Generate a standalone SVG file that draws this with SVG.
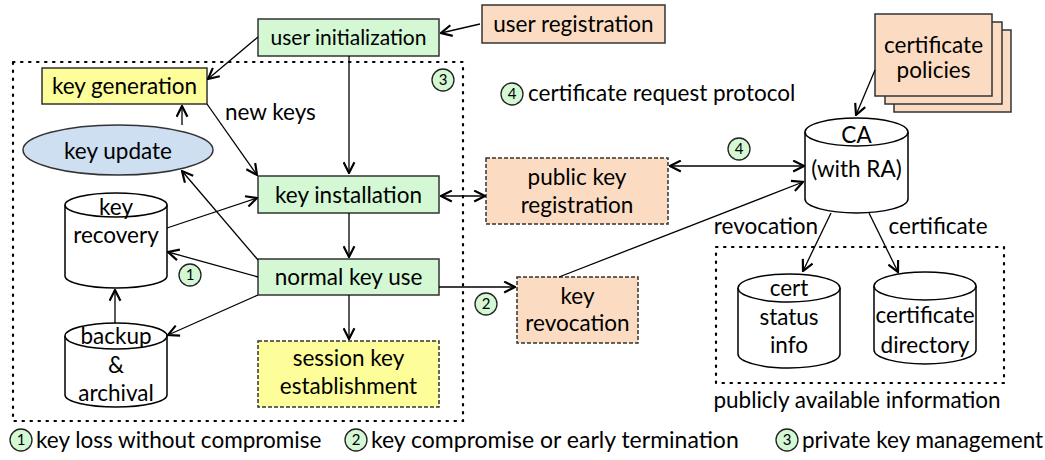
<svg xmlns="http://www.w3.org/2000/svg" width="1045" height="460" viewBox="0 0 1045 460">
<style>
text{font-family:Lato,"Open Sans",sans-serif;font-size:22.5px;fill:#000;text-anchor:middle}
.l{text-anchor:start}
.green{fill:#d3f8d3;stroke:#333;stroke-width:1.5}
.yellow{fill:#fdfd99;stroke:#333;stroke-width:1.5}
.peach{fill:#fbdcc2;stroke:#333;stroke-width:1.5}
.dash{stroke-dasharray:4 2}
.cyl{fill:#fff;stroke:#000;stroke-width:1.5}
.dots{fill:none;stroke:#000;stroke-width:2.2;stroke-dasharray:1.5 6.5;stroke-linecap:round}
.num{fill:#d3f8d3;stroke:#222;stroke-width:1.3}
.nt{font-size:15px}
.c line,.c path{stroke:#000;stroke-width:1.3;fill:none;marker-end:url(#a)}
.c .d{marker-start:url(#a)}
</style>
<defs>
<marker id="a" viewBox="0 0 12 12" refX="11" refY="6" markerWidth="13" markerHeight="13" markerUnits="userSpaceOnUse" orient="auto-start-reverse">
<path d="M1,1 L11,6 L1,11" fill="none" stroke="#000" stroke-width="2"/>
</marker>
</defs>

<rect class="dots" x="13" y="62" width="450" height="359"/>
<rect class="dots" x="716" y="247" width="288" height="136"/>

<g id="user-init"><rect class="green" x="258" y="19" width="181" height="37"/><text x="348.5" y="45" style="font-size:21px">user initialization</text></g>
<g id="user-reg"><rect class="peach" x="482" y="5" width="183" height="38"/><text x="573.5" y="32">user registration</text></g>
<g id="key-gen"><rect class="yellow" x="42" y="68" width="165" height="36"/><text x="124.5" y="94">key generation</text></g>
<g id="key-update"><ellipse cx="118" cy="150" rx="95" ry="25" fill="#cddff1" stroke="#333" stroke-width="1.5"/><text x="118" y="159">key update</text></g>
<g id="key-install"><rect class="green" x="258" y="176" width="181" height="37"/><text x="348.5" y="203">key installation</text></g>
<g id="normal-use"><rect class="green" x="258" y="259" width="181" height="36"/><text x="348.5" y="285">normal key use</text></g>
<g id="session"><rect class="yellow dash" x="258" y="341" width="181" height="66"/><text x="348.5" y="366">session key</text><text x="348.5" y="394">establishment</text></g>
<g id="key-recovery"><path class="cyl" d="M65,205 L65,276 A51,12 0 0 0 167,276 L167,205"/><ellipse class="cyl" cx="116" cy="205" rx="51" ry="12"/><text x="116" y="215">key</text><text x="116" y="243">recovery</text></g>
<g id="backup"><path class="cyl" d="M65,336 L65,395 A51,12 0 0 0 167,395 L167,336"/><ellipse class="cyl" cx="116" cy="336" rx="51" ry="13"/><text x="116" y="344">backup</text><text x="116" y="373">&amp;</text><text x="116" y="401">archival</text></g>
<g id="pub-reg"><rect class="peach dash" x="486" y="158" width="182" height="66"/><text x="577" y="185">public key</text><text x="577" y="213">registration</text></g>
<g id="key-revoc"><rect class="peach dash" x="517" y="277" width="121" height="66"/><text x="577.5" y="304">key</text><text x="577.5" y="331">revocation</text></g>
<g id="policies"><rect class="peach" x="894" y="30" width="117" height="82"/><rect class="peach" x="885" y="22" width="117" height="82"/><rect class="peach" x="875" y="14" width="117" height="82"/><text x="933.5" y="53">certificate</text><text x="933.5" y="78">policies</text></g>
<g id="ca"><path class="cyl" d="M805,132 L805,199 A51.5,14 0 0 0 908,199 L908,132"/><ellipse class="cyl" cx="856.5" cy="132" rx="51.5" ry="14"/><text x="856.5" y="143">CA</text><text x="856.5" y="177">(with RA)</text></g>
<g id="cert-status"><path class="cyl" d="M738,288 L738,354 A51,14 0 0 0 840,354 L840,288"/><ellipse class="cyl" cx="789" cy="288" rx="51" ry="14"/><text x="789" y="296">cert</text><text x="789" y="325">status</text><text x="789" y="353">info</text></g>
<g id="cert-dir"><path class="cyl" d="M874,286 L874,350 A51,14 0 0 0 976,350 L976,286"/><ellipse class="cyl" cx="925" cy="286" rx="51" ry="14"/><text x="925" y="323">certificate</text><text x="925" y="353">directory</text></g>

<g id="connectors" class="c">
<line x1="480" y1="24" x2="441" y2="33"/>
<line x1="258" y1="37" x2="208" y2="79"/>
<line x1="349" y1="56" x2="349" y2="173"/>
<line x1="182" y1="125" x2="182" y2="106"/>
<line x1="207" y1="104" x2="257" y2="175"/>
<line x1="349" y1="213" x2="349" y2="257"/>
<line x1="349" y1="295" x2="349" y2="339"/>
<line x1="167" y1="228" x2="257" y2="198"/>
<line x1="258" y1="277" x2="168" y2="252"/>
<line x1="258" y1="260" x2="182" y2="171"/>
<line x1="258" y1="295" x2="168" y2="335"/>
<line x1="115" y1="323" x2="115" y2="290"/>
<line class="d" x1="441" y1="196" x2="485" y2="196"/>
<line class="d" x1="670" y1="166" x2="804" y2="166"/>
<line x1="439" y1="287" x2="515" y2="287"/>
<line x1="559" y1="277" x2="803" y2="182"/>
<line x1="875" y1="70" x2="856" y2="115"/>
<line x1="831" y1="213" x2="803" y2="271"/>
<line x1="869" y1="213" x2="898" y2="272"/>
</g>

<g id="labels">
<text class="l" x="225" y="120">new keys</text>
<circle class="num" cx="443" cy="80" r="11"/><text class="nt" x="443" y="85">3</text>
<circle class="num" cx="190" cy="275" r="11"/><text class="nt" x="190" y="280">1</text>
<circle class="num" cx="486" cy="304" r="11"/><text class="nt" x="486" y="309">2</text>
<circle class="num" cx="739" cy="149" r="11"/><text class="nt" x="739" y="154">4</text>
<circle class="num" cx="512" cy="94" r="11"/><text class="nt" x="512" y="99">4</text>
<text class="l" x="528" y="101">certificate request protocol</text>
<text x="766" y="234">revocation</text>
<text x="938" y="234">certificate</text>
<text x="857" y="408">publicly available information</text>
<circle class="num" cx="21" cy="440" r="11"/><text class="nt" x="21" y="445">1</text>
<text class="l" x="36" y="448">key loss without compromise</text>
<circle class="num" cx="356" cy="440" r="11"/><text class="nt" x="356" y="445">2</text>
<text class="l" x="371" y="448" style="font-size:23px">key compromise or early termination</text>
<circle class="num" cx="787" cy="440" r="11"/><text class="nt" x="787" y="445">3</text>
<text class="l" x="802" y="448">private key management</text>
</g>
</svg>
